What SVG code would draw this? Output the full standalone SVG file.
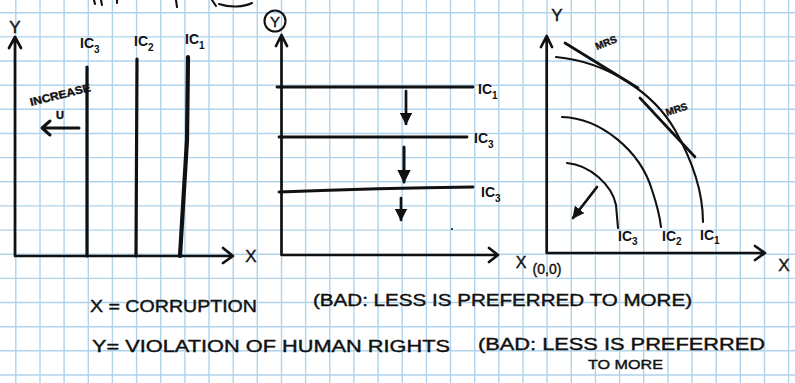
<svg xmlns="http://www.w3.org/2000/svg" width="795" height="383" viewBox="0 0 795 383">
<defs>
<style>
.ink{fill:none;stroke:#111;stroke-width:2.7;stroke-linecap:round;stroke-linejoin:round}
.thin{fill:none;stroke:#111;stroke-width:2.1;stroke-linecap:round;stroke-linejoin:round}
.bold{fill:none;stroke:#111;stroke-width:3.2;stroke-linecap:round}
.t{font-family:"Liberation Sans",Arial,sans-serif;fill:#111;stroke:#111;stroke-width:0.4}
.lab{font-family:"Liberation Sans",Arial,sans-serif;fill:#111;font-size:14px;font-weight:bold}
.sub{font-size:10px}
.grid{fill:none;stroke:#b0d3eb;stroke-width:1.4}
</style>
<marker id="ah" viewBox="0 0 10 10" refX="9" refY="5" markerWidth="4.5" markerHeight="4.5" orient="auto"><path d="M0 0 L10 5 L0 10 z" fill="#111"/></marker>
</defs>
<rect width="795" height="383" fill="#fff"/>
<path class="grid" d="M15.8 0V383M40 0V383M64.1 0V383M88.3 0V383M112.4 0V383M136.6 0V383M160.7 0V383M184.9 0V383M209 0V383M233.2 0V383M257.3 0V383M281.5 0V383M305.6 0V383M329.8 0V383M353.9 0V383M378.1 0V383M402.2 0V383M426.4 0V383M450.5 0V383M474.7 0V383M498.8 0V383M523 0V383M547.1 0V383M571.3 0V383M595.4 0V383M619.6 0V383M643.7 0V383M667.9 0V383M692 0V383M716.2 0V383M740.3 0V383M764.5 0V383M788.6 0V383M0 12.7H795M0 36.9H795M0 61H795M0 85.2H795M0 109.3H795M0 133.5H795M0 157.6H795M0 181.8H795M0 205.9H795M0 230.1H795M0 254.2H795M0 278.4H795M0 302.5H795M0 326.7H795M0 350.8H795M0 375H795"/>
<g id="top-fragments">
<path class="thin" d="M94 0L95 4M101 0L102 5M117 0L117 3M176 0L177 7M212 0L216 6M219 4C230 8 244 7 252 3"/>
</g>
<g id="panel1">
<path class="ink" d="M15 256V37M9 48L15 37L21 48M15 256H233M223 248L233 256L223 263"/>
<text class="t" x="15" y="33" font-size="17" text-anchor="middle">Y</text>
<text class="t" x="251" y="262" font-size="17" text-anchor="middle">X</text>
<path class="bold" d="M87 67V256M137 59L136 256"/>
<path class="ink" d="M188 57L187 140L180 256" style="stroke-width:4.2"/>
<text class="lab" x="80" y="48">IC<tspan class="sub" dy="5">3</tspan></text>
<text class="lab" x="134" y="46">IC<tspan class="sub" dy="5">2</tspan></text>
<text class="lab" x="185" y="44">IC<tspan class="sub" dy="5">1</tspan></text>
<text class="t" x="0" y="0" font-size="11" font-weight="bold" transform="translate(31 106) rotate(-14)" textLength="62" lengthAdjust="spacingAndGlyphs">INCREASE</text>
<text class="t" x="60" y="119" font-size="11" font-weight="bold" text-anchor="middle">U</text>
<path class="ink" d="M79 128H42M50 121L42 128L50 135" style="stroke-width:3"/>
</g>
<g id="panel2">
<circle cx="275" cy="21" r="10.5" class="thin"/>
<text class="t" x="275" y="27" font-size="15" text-anchor="middle">Y</text>
<path class="ink" d="M281.5 255V35M276 46L281.5 35L287 46M281.5 255H498M489 248L498 255L489 262"/>
<text class="t" x="521" y="268" font-size="16" text-anchor="middle">X</text>
<path class="ink" d="M277 87H473M279 137H467M279 192Q380 188 473 187" style="stroke-width:2.8"/>
<text class="lab" x="478" y="94">IC<tspan class="sub" dy="5">1</tspan></text>
<text class="lab" x="474" y="143">IC<tspan class="sub" dy="5">3</tspan></text>
<text class="lab" x="481" y="197">IC<tspan class="sub" dy="5">3</tspan></text>
<path class="ink" d="M406 91V124" marker-end="url(#ah)"/>
<path class="ink" d="M404 147V182" marker-end="url(#ah)" style="stroke-width:3"/>
<path class="ink" d="M401 198V220" marker-end="url(#ah)"/>
<circle cx="452" cy="229" r="1" fill="#111"/>
</g>
<g id="panel3">
<path class="ink" d="M546.7 253V36M541 47L546.7 36L552 47M546.7 253H765M755 246L765 253L755 260"/>
<text class="t" x="557" y="21" font-size="17" text-anchor="middle">Y</text>
<text class="t" x="784" y="271" font-size="17" text-anchor="middle">X</text>
<text class="t" x="547" y="274" font-size="14" text-anchor="middle">(0,0)</text>
<path class="thin" d="M556 57C610 62 655 95 675 130C692 160 703 190 703 222"/>
<path class="ink" d="M565 43L638 88M640 98L695 157"/>
<text class="t" x="0" y="0" font-size="10" font-weight="bold" transform="translate(597 50) rotate(-22)">MRS</text>
<text class="t" x="0" y="0" font-size="10" font-weight="bold" transform="translate(667 116) rotate(-18)">MRS</text>
<path class="thin" d="M562 117C600 118 640 150 652 190C658 208 660 218 661 227"/>
<path class="thin" d="M567 163C590 165 612 185 616 205L618 228"/>
<text class="lab" x="618" y="241" font-size="13">IC<tspan class="sub" dy="4">3</tspan></text>
<text class="lab" x="662" y="241" font-size="13">IC<tspan class="sub" dy="4">2</tspan></text>
<text class="lab" x="700" y="240" font-size="13">IC<tspan class="sub" dy="4">1</tspan></text>
<path class="ink" d="M597 187L573 218" marker-end="url(#ah)"/>
</g>
<g id="legend">
<text class="t" x="90" y="312" font-size="17" textLength="167" lengthAdjust="spacingAndGlyphs">X = CORRUPTION</text>
<text class="t" x="313" y="306" font-size="16" textLength="379" lengthAdjust="spacingAndGlyphs">(BAD: LESS IS PREFERRED TO MORE)</text>
<text class="t" x="92" y="352" font-size="17" textLength="358" lengthAdjust="spacingAndGlyphs">Y= VIOLATION OF HUMAN RIGHTS</text>
<text class="t" x="478" y="350" font-size="16" textLength="287" lengthAdjust="spacingAndGlyphs">(BAD: LESS IS PREFERRED</text>
<text class="t" x="588" y="369" font-size="13" textLength="75" lengthAdjust="spacingAndGlyphs">TO MORE</text>
</g>
</svg>
